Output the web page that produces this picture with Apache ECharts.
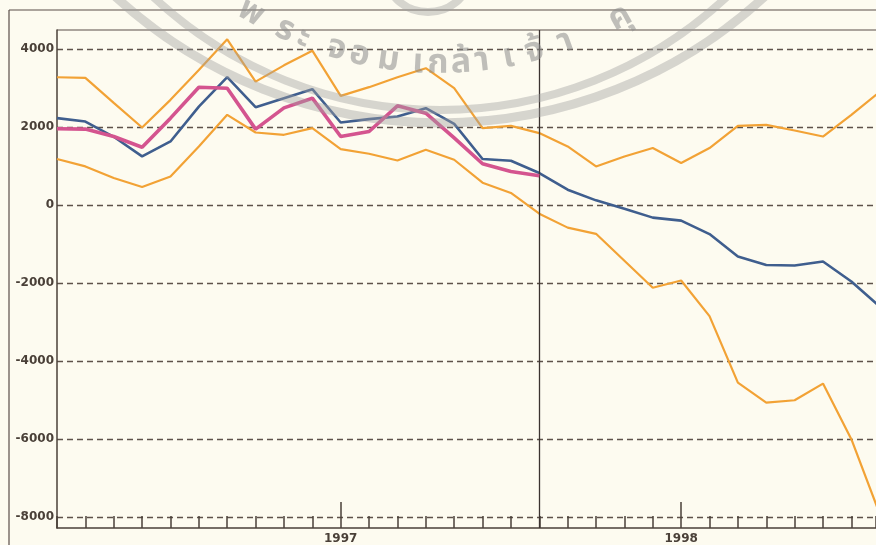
<!DOCTYPE html>
<html>
<head>
<meta charset="utf-8">
<script src="https://cdn.jsdelivr.net/npm/echarts@6/dist/echarts.min.js"></script>
<style>
  html, body { margin: 0; padding: 0; background: #fdfbf0; }
  #chart { width: 876px; height: 545px; }
</style>
</head>
<body>
<div id="chart"></div>
<script>
// Monthly index: 0 = March 1996, 10 = January 1997, 22 = January 1998
const yearLabels = ['1997', '1998'];
const yearTickIndex = [10, 22];
const yTickValues = [-8000, -6000, -4000, -2000, 0, 2000, 4000];
const forecastStart = 17;

// Upper band of the forecast range
const upperBand = [3275, 3258, 2618, 1986, 2695, 3462, 4248, 3163, 3580, 3956,
  2797, 3020, 3275, 3506, 2994, 1970, 2029, 1842, 1500, 988,
  1244, 1459, 1075, 1459, 2029, 2055, 1909, 1755, 2311, 2899];
// Central forecast
const forecast = [2226, 2139, 1748, 1244, 1628, 2523, 3276, 2508, 2738, 2968,
  2114, 2201, 2267, 2482, 2080, 1177, 1133, 819, 392, 118,
  -95, -325, -402, -747, -1323, -1541, -1553, -1451, -1963, -2602];
// Actual outcome
const actual = [1953, 1945, 1755, 1480, 2226, 3020, 2994, 1945, 2490, 2738,
  1755, 1883, 2541, 2354, 1720, 1057, 860, 750];
// Lower band of the forecast range
const lowerBand = [1177, 988, 691, 460, 732, 1500, 2311, 1858, 1799, 1970,
  1433, 1313, 1141, 1415, 1159, 571, 307, -223, -581, -740,
  -1430, -2124, -1937, -2851, -4555, -5067, -5008, -4581, -6006, -7925];

// Seal text arched across the top (glyph cluster, horizontal position)
const sealGlyphs = [['พ', 250], ['ร', 284], ['ะ', 303], ['จ', 336], ['อ', 359],
  ['ม', 388], ['เ', 418], ['ก', 438], ['ล้', 461], ['า', 482], ['เ', 509],
  ['จ้', 535], ['า', 566], ['คุ', 621], ['ณ', 670]];

const toPairs = arr => arr.map((v, i) => [i, v]);

const ink = '#4a4038';
const gridInk = '#5e524a';
const orange = '#f2a235';
const blue = '#3f5e8e';
const pink = '#d4548f';
const labelFont = { fontFamily: 'DejaVu Sans', fontWeight: 'bold', fontSize: 12, color: ink };

// Seal geometry
const sealCx = 440, sealCy = -310, sealTextR = 376;
const sealGray = 'rgba(140,140,140,0.55)';
const sealElements = [
  { type: 'circle', z: 100, shape: { cx: 440, cy: -357, r: 480 },
    style: { fill: 'none', stroke: 'rgba(160,160,160,0.42)', lineWidth: 9 } },
  { type: 'circle', z: 100, shape: { cx: 440, cy: -310, r: 420 },
    style: { fill: 'none', stroke: 'rgba(160,160,160,0.42)', lineWidth: 8 } },
  { type: 'ellipse', z: 100, shape: { cx: 428, cy: -22, rx: 40, ry: 34 },
    style: { fill: 'none', stroke: 'rgba(160,160,160,0.42)', lineWidth: 8 } }
];
sealGlyphs.forEach(([g, px]) => {
  const th = Math.asin((px - sealCx) / sealTextR);
  sealElements.push({
    type: 'text', z: 101,
    x: sealCx + sealTextR * Math.sin(th),
    y: sealCy + sealTextR * Math.cos(th),
    rotation: th,
    style: {
      text: g, fill: sealGray, align: 'center', verticalAlign: 'middle',
      font: 'bold 34px "Noto Sans Thai", "Noto Sans", "DejaVu Sans", sans-serif'
    }
  });
});

const frameLines = [
  { type: 'line', shape: { x1: 9, y1: 10, x2: 9, y2: 545 }, style: { stroke: '#5a4e48', lineWidth: 1.2 } },
  { type: 'line', shape: { x1: 9, y1: 10, x2: 876, y2: 10 }, style: { stroke: '#5a4e48', lineWidth: 1.2 } },
  { type: 'line', shape: { x1: 57, y1: 30, x2: 876, y2: 30 }, style: { stroke: '#5a4e48', lineWidth: 1.2 } }
];

const chart = echarts.init(document.getElementById('chart'), null, { renderer: 'canvas' });

const xMax = (876 - 57) / 28.37;

chart.setOption({
  backgroundColor: '#fdfbf0',
  animation: false,
  grid: { left: 57, top: 30, right: 0, bottom: 16, containLabel: false },
  xAxis: [
    {
      type: 'value', min: 0, max: xMax, interval: 1, position: 'bottom',
      axisLine: { show: true, onZero: false, lineStyle: { color: ink, width: 1.5 } },
      axisTick: { show: true, inside: true, length: 12, lineStyle: { color: ink, width: 1.5 } },
      axisLabel: {
        ...labelFont, margin: 5,
        customValues: yearTickIndex,
        formatter: v => yearLabels[yearTickIndex.indexOf(Math.round(v))] || ''
      },
      splitLine: { show: false }
    },
    {
      type: 'value', min: 0, max: xMax, position: 'bottom',
      axisLine: { show: false, onZero: false },
      axisTick: { show: true, inside: true, length: 26, customValues: yearTickIndex,
        lineStyle: { color: ink, width: 1.5 } },
      axisLabel: { show: false },
      splitLine: { show: false }
    }
  ],
  yAxis: {
    type: 'value', min: -8283, max: 4486,
    axisLine: { show: true, onZero: false, lineStyle: { color: ink, width: 1.5 } },
    axisTick: { show: false, customValues: yTickValues },
    axisLabel: { ...labelFont, margin: 3, customValues: yTickValues, formatter: v => String(v) },
    splitLine: { show: true, lineStyle: { color: gridInk, width: 1.4, type: [6, 4] } }
  },
  graphic: frameLines.concat(sealElements),
  series: [
    {
      name: 'upper', type: 'line', data: toPairs(upperBand), symbol: 'none',
      lineStyle: { color: orange, width: 2.2 }, z: 3
    },
    {
      name: 'lower', type: 'line', data: toPairs(lowerBand), symbol: 'none',
      lineStyle: { color: orange, width: 2.2 }, z: 3
    },
    {
      name: 'forecast', type: 'line', data: toPairs(forecast), symbol: 'none',
      lineStyle: { color: blue, width: 2.6 }, z: 4,
      markLine: {
        silent: true, symbol: 'none', label: { show: false },
        lineStyle: { color: '#3b3330', width: 1.3, type: 'solid' },
        data: [{ xAxis: forecastStart }]
      }
    },
    {
      name: 'actual', type: 'line', data: toPairs(actual), symbol: 'none',
      lineStyle: { color: pink, width: 3.6 }, z: 5
    }
  ]
});
</script>
</body>
</html>
